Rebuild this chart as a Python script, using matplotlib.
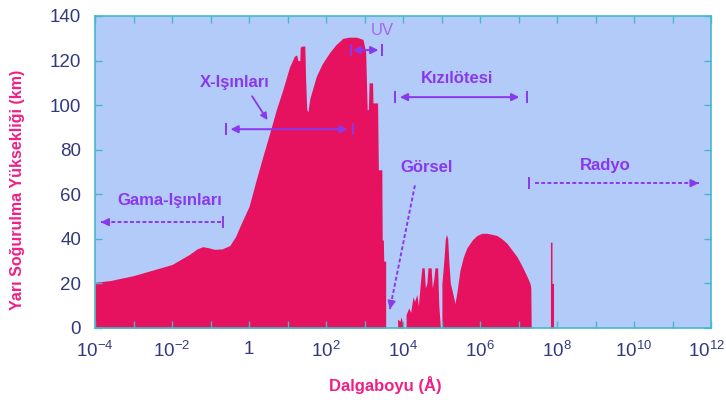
import numpy as np
import matplotlib
matplotlib.use("Agg")
import matplotlib.pyplot as plt
from matplotlib.ticker import FixedLocator, NullFormatter
from matplotlib.transforms import ScaledTranslation

# ---- data ----
# log10 of wavelength (Angstrom) and half-absorption altitude (km)
log_wavelength = [
    -4.0, -3.6, -3.3, -3.0, -2.7, -2.4, -2.0, -1.8, -1.55, -1.35, -1.2, -1.05, -0.9, -0.7,
    -0.5, -0.35, -0.2, 0.0, 0.18, 0.36, 0.53, 0.71, 0.88, 1.05, 1.18, 1.24, 1.27, 1.32,
    1.33, 1.38, 1.45, 1.47, 1.50, 1.53, 1.58, 1.75, 1.9, 2.09, 2.25, 2.44, 2.6, 2.79,
    2.96, 3.03, 3.07, 3.10, 3.12, 3.21, 3.22, 3.34, 3.36, 3.45, 3.46, 3.49, 3.50, 3.55,
    3.55, 3.86, 3.86, 3.92, 3.95, 3.99, 4.00, 4.08, 4.08, 4.15, 4.20, 4.26, 4.30, 4.36,
    4.40, 4.45, 4.49, 4.55, 4.58, 4.62, 4.65, 4.73, 4.76, 4.80, 4.83, 4.90, 4.93, 4.96,
    4.97, 5.01, 5.01, 5.06, 5.10, 5.13, 5.16, 5.19, 5.23, 5.30, 5.35, 5.40, 5.48, 5.57,
    5.66, 5.80, 5.92, 6.05, 6.18, 6.32, 6.44, 6.57, 6.70, 6.83, 6.96, 7.07, 7.17, 7.25,
    7.30, 7.32, 7.33, 7.83, 7.83, 7.87, 7.87, 7.91, 7.91, 12.0,
]
altitude_km = [
    20.5, 21.3, 22.4, 23.5, 25.0, 26.5, 28.5, 30.5, 33.0, 35.5, 36.5, 36.0, 35.3, 35.5,
    37.0, 41.0, 47.0, 54.5, 66.0, 77.0, 87.0, 98.0, 107.0, 117.0, 122.0, 122.5, 120.0, 120.0,
    126.0, 126.5, 126.5, 112.0, 98.0, 97.0, 103.0, 113.0, 118.5, 123.5, 127.0, 130.0, 130.5, 130.5,
    129.5, 124.0, 98.0, 98.0, 110.0, 110.0, 101.0, 101.0, 71.0, 71.0, 39.5, 39.5, 30.0, 30.0,
    0.0, 0.0, 4.0, 3.0, 5.0, 2.0, 0.0, 0.0, 6.0, 9.0, 7.0, 14.0, 12.0, 15.0,
    10.0, 20.0, 27.0, 27.0, 18.0, 20.0, 27.0, 27.0, 18.0, 22.0, 27.0, 27.0, 10.0, 3.0,
    0.0, 0.0, 20.0, 30.0, 40.0, 42.0, 40.0, 30.0, 20.0, 15.0, 11.0, 16.0, 26.0, 32.0,
    36.0, 39.5, 41.5, 42.5, 42.5, 42.0, 41.5, 40.0, 38.0, 35.0, 32.0, 28.5, 25.0, 22.0,
    20.0, 18.0, 0.0, 0.0, 38.5, 38.5, 20.0, 20.0, 0.0, 0.0,
]

x_tick_exponents = [-4, -2, 0, 2, 4, 6, 8, 10, 12]
x_tick_labels = [r"$10^{-4}$", r"$10^{-2}$", "1", r"$10^{2}$", r"$10^{4}$",
                 r"$10^{6}$", r"$10^{8}$", r"$10^{10}$", r"$10^{12}$"]
y_ticks = [0, 20, 40, 60, 80, 100, 120, 140]

x_label = "Dalgaboyu (Å)"
y_label = "Yarı Soğurulma Yüksekliği (km)"

# ---- style ----
BG = "#b3cbf8"
FILL = "#e6125f"
FRAME = "#45b9c9"
TICKTXT = "#33397f"
PINK = "#ef1f86"
PURPLE = "#8a38ee"
FONT = ["Liberation Sans", "DejaVu Sans"]

plt.rcParams["font.family"] = FONT
plt.rcParams["mathtext.fontset"] = "custom"
plt.rcParams["mathtext.rm"] = "Liberation Sans"
plt.rcParams["mathtext.it"] = "Liberation Sans"

fig = plt.figure(figsize=(7.26, 4.07), dpi=100)
fig.patch.set_facecolor("white")
ax = fig.add_axes([95 / 726, 1 - 328 / 407, (711 - 95) / 726, (328 - 16) / 407])
ax.set_facecolor(BG)

wl = 10.0 ** np.array(log_wavelength)
alt = np.array(altitude_km)
ax.fill_between(wl, alt, 0, color=FILL, linewidth=0)

ax.set_xscale("log")
ax.set_xlim(1e-4, 1e12)
ax.set_ylim(0, 140)

ax.xaxis.set_major_locator(FixedLocator([10.0 ** e for e in x_tick_exponents]))
ax.set_xticklabels(x_tick_labels)
ax.xaxis.set_minor_locator(FixedLocator([10.0 ** e for e in range(-3, 12, 2)]))
ax.xaxis.set_minor_formatter(NullFormatter())
ax.set_yticks(y_ticks)

for side in ax.spines.values():
    side.set_color(FRAME)
    side.set_linewidth(1.2)
ax.tick_params(which="both", direction="in", top=True, right=True, length=5,
               width=1, color=FRAME)
ax.tick_params(axis="x", which="major", labelsize=13.5, labelcolor=TICKTXT, pad=9)
ax.tick_params(axis="y", which="major", labelsize=13.5, labelcolor=TICKTXT, pad=10)

# keep the last x label inside the figure
last = ax.get_xticklabels()[-1]
last.set_transform(last.get_transform() + ScaledTranslation(-5 / 100, 0, fig.dpi_scale_trans))

fig.text(18 / 726, 1 - 190 / 407, y_label, rotation=90, ha="center", va="center",
         color=PINK, fontsize=11.5, fontweight="bold")
fig.text(385 / 726, 1 - 385 / 407, x_label, ha="center", va="center",
         color=PINK, fontsize=12, fontweight="bold")

# ---- band annotations ----
L = lambda e: 10.0 ** e
tkw = dict(color=PURPLE, fontsize=12, fontweight="bold", ha="center", va="center")


def bar(e, y):
    ax.plot([L(e)], [y], marker="|", ms=9, mew=1.4, color=PURPLE)


def double_arrow(e0, e1, y, ls="-"):
    ax.annotate("", xy=(L(e1), y), xytext=(L(e0), y),
                arrowprops=dict(arrowstyle="<|-|>", color=PURPLE, lw=1.4,
                                mutation_scale=11, shrinkA=0, shrinkB=0, linestyle=ls))


def dotted_arrow(e0, y0, e1, y1):
    ax.plot([L(e0), L(e1)], [y0, y1], color=PURPLE, lw=1.4, ls=(0, (2, 1.2)))
    de = (e1 - e0) * 0.04
    dy = (y1 - y0) * 0.04
    ax.annotate("", xy=(L(e1), y1), xytext=(L(e1 - de), y1 - dy),
                arrowprops=dict(arrowstyle="-|>", color=PURPLE, lw=1.4,
                                mutation_scale=11, shrinkA=0, shrinkB=0))


# Gamma rays
ax.text(L(-2.05), 57, "Gama-Işınları", **tkw)
bar(-0.67, 47.5)
dotted_arrow(-0.72, 47.5, -3.85, 47.5)

# X-rays
ax.text(L(-0.38), 110, "X-Işınları", **tkw)
bar(-0.61, 89.2)
bar(2.69, 89.2)
double_arrow(-0.48, 2.56, 89.2)
ax.annotate("", xy=(L(0.48), 93.3), xytext=(L(0.08), 104.0),
            arrowprops=dict(arrowstyle="-|>", color=PURPLE, lw=1.3,
                            mutation_scale=10, shrinkA=0, shrinkB=0))

# UV
ax.text(L(3.45), 133.5, "UV", color="#a06af0", fontsize=12, ha="center", va="center")
bar(2.64, 124.7)
bar(3.45, 124.7)
double_arrow(2.70, 3.36, 124.7)

# Infrared
ax.text(L(5.40), 112, "Kızılötesi", **tkw)
bar(3.79, 103.6)
bar(7.22, 103.6)
double_arrow(3.92, 7.02, 103.6)

# Visible
ax.text(L(4.62), 72, "Görsel", **tkw)
dotted_arrow(4.31, 64, 3.66, 8.5)

# Radio
ax.text(L(9.25), 73, "Radyo", **tkw)
bar(7.28, 65)
dotted_arrow(7.43, 65, 11.68, 65)

fig.savefig("out.png", dpi=100, facecolor="white")
